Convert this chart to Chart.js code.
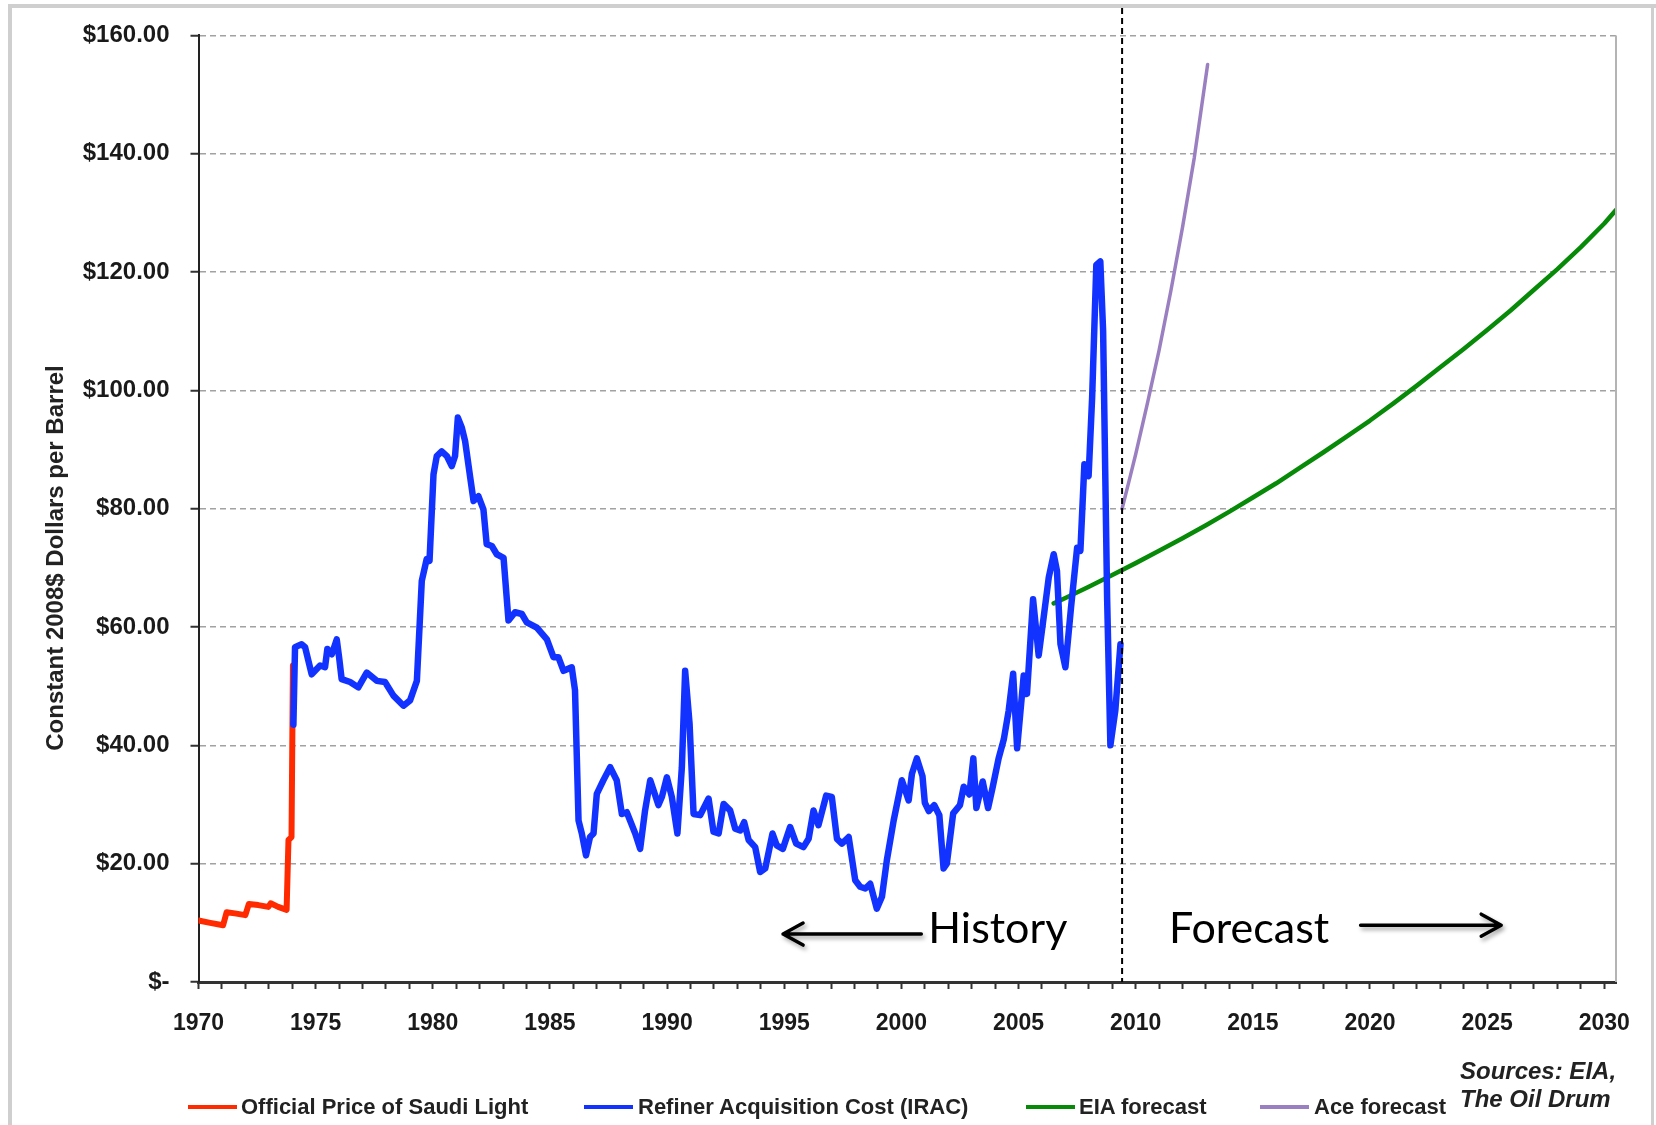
<!DOCTYPE html>
<html>
<head>
<meta charset="utf-8">
<script src="https://cdn.jsdelivr.net/npm/chart.js@4.4.1/dist/chart.umd.min.js"></script>
<style>
  html, body { margin: 0; padding: 0; background: #fff; }
  #wrap { position: relative; width: 1656px; height: 1125px; overflow: hidden; background: #fff; }
  #wrap canvas { position: absolute; left: 0; top: 0; }
  .frame { position: absolute; background: #cfcfcf; }
  .ytitle { position: absolute; left: -195px; top: 544px; width: 500px; height: 28px; line-height: 28px;
            text-align: center; transform: rotate(-90deg); transform-origin: 50% 50%;
            font: bold 24px "Liberation Sans", Arial, sans-serif; color: #222; white-space: nowrap; }
  .lg-line { position: absolute; height: 4px; top: 1105px; }
  .lg-text { position: absolute; top: 1094px; line-height: 26px; font: bold 22px "Liberation Sans", Arial, sans-serif; color: #222; white-space: nowrap; }
  .sources { position: absolute; left: 1460px; top: 1057px; line-height: 29px; font: italic bold 24px "Liberation Sans", Arial, sans-serif; color: #222; white-space: nowrap; }
</style>
</head>
<body>
<div id="wrap">
  <canvas id="c"></canvas>
  <div class="frame" style="left:8px; top:4px; width:1648px; height:4px;"></div>
  <div class="frame" style="left:8px; top:4px; width:4px; height:1121px;"></div>
  <div class="frame" style="left:1651px; top:4px; width:3px; height:1121px;"></div>
  <div class="ytitle">Constant 2008$ Dollars per Barrel</div>
  <div id="legend"></div>
  <div class="sources">Sources: EIA,<br>The Oil Drum</div>
</div>
<script>
// ---------- DATA ----------
const saudiYears  = [1970.0, 1970.5, 1971.05, 1971.2, 1971.55, 1972.0, 1972.15, 1972.55, 1972.98, 1973.08, 1973.4, 1973.76, 1973.84, 1973.97, 1974.03];
const saudiValues = [10.4, 10.0, 9.6, 11.8, 11.6, 11.3, 13.2, 13.0, 12.7, 13.3, 12.7, 12.2, 24.0, 24.5, 53.5];

const iracYears = [
  1974.05, 1974.12, 1974.40, 1974.55, 1974.83, 1975.19, 1975.40, 1975.50, 1975.69, 1975.90,
  1976.00, 1976.11, 1976.47, 1976.82, 1977.18, 1977.61, 1977.96, 1978.32, 1978.75, 1979.03,
  1979.32, 1979.53, 1979.74, 1979.86, 1980.03, 1980.17, 1980.38, 1980.60, 1980.81, 1980.95,
  1981.07, 1981.24, 1981.38, 1981.60, 1981.74, 1981.95, 1982.16, 1982.30, 1982.52, 1982.73,
  1983.02, 1983.23, 1983.51, 1983.80, 1984.01, 1984.44, 1984.87, 1985.15, 1985.36, 1985.58,
  1985.93, 1986.07, 1986.22, 1986.36, 1986.54, 1986.71, 1986.86, 1987.00, 1987.28, 1987.57,
  1987.85, 1988.07, 1988.28, 1988.42, 1988.64, 1988.85, 1989.06, 1989.28, 1989.63, 1989.78,
  1989.99, 1990.20, 1990.44, 1990.63, 1990.77, 1990.96, 1991.13, 1991.41, 1991.77, 1991.98,
  1992.20, 1992.41, 1992.69, 1992.91, 1993.12, 1993.29, 1993.48, 1993.76, 1993.97, 1994.19,
  1994.50, 1994.68, 1994.94, 1995.25, 1995.51, 1995.82, 1996.04, 1996.25, 1996.46, 1996.79,
  1997.03, 1997.25, 1997.46, 1997.75, 1998.03, 1998.24, 1998.46, 1998.67, 1998.95, 1999.17,
  1999.38, 1999.67, 2000.02, 2000.31, 2000.45, 2000.66, 2000.90, 2001.00, 2001.17, 2001.40,
  2001.62, 2001.80, 2001.94, 2002.21, 2002.50, 2002.66, 2002.90, 2003.07, 2003.20, 2003.47,
  2003.70, 2003.90, 2004.15, 2004.37, 2004.58, 2004.77, 2004.94, 2005.22, 2005.36, 2005.62,
  2005.86, 2006.07, 2006.29, 2006.50, 2006.64, 2006.79, 2007.00, 2007.24, 2007.50, 2007.64,
  2007.81, 2007.99, 2008.14, 2008.32, 2008.49, 2008.61, 2008.78, 2008.92, 2009.13, 2009.35
];
const iracValues = [
  43.5, 56.6, 57.1, 56.6, 52.0, 53.5, 53.2, 56.3, 55.4, 57.9,
  54.9, 51.2, 50.7, 49.8, 52.3, 50.9, 50.7, 48.4, 46.7, 47.6,
  50.9, 67.8, 71.5, 71.2, 85.8, 88.9, 89.7, 88.9, 87.2, 88.9,
  95.4, 93.7, 91.4, 85.2, 81.3, 82.1, 79.9, 74.0, 73.7, 72.3,
  71.7, 61.1, 62.5, 62.2, 60.8, 59.9, 57.9, 54.9, 54.9, 52.6,
  53.2, 49.3, 27.3, 25.1, 21.4, 24.5, 25.1, 31.8, 34.1, 36.3,
  34.1, 28.4, 28.7, 27.3, 25.1, 22.5, 29.0, 34.1, 29.9, 31.3,
  34.6, 31.3, 25.1, 36.3, 52.6, 43.6, 28.4, 28.2, 31.0, 25.4,
  25.1, 30.1, 29.0, 25.9, 25.6, 27.0, 24.0, 22.8, 18.6, 19.2,
  25.1, 23.1, 22.5, 26.2, 23.4, 22.8, 24.2, 29.0, 26.5, 31.5,
  31.3, 24.2, 23.4, 24.5, 17.2, 16.1, 15.8, 16.6, 12.4, 14.4,
  20.6, 27.3, 34.1, 30.7, 35.2, 37.8, 34.8, 30.3, 28.9, 29.9,
  28.2, 19.2, 20.0, 28.5, 29.9, 33.0, 31.7, 37.8, 29.4, 33.9,
  29.4, 33.0, 37.8, 41.0, 45.9, 52.1, 39.5, 51.8, 48.7, 64.7,
  55.2, 61.6, 68.4, 72.3, 69.5, 57.1, 53.2, 63.3, 73.4, 72.9,
  87.5, 85.5, 98.7, 121.2, 121.8, 110.0, 65.0, 40.0, 45.9, 57.1
];

const eiaYears  = [2006.5, 2007, 2008, 2009, 2010, 2011, 2012, 2013, 2014, 2015, 2016, 2017, 2018, 2019, 2020, 2021, 2022, 2023, 2024, 2025, 2026, 2027, 2028, 2029, 2030, 2030.5];
const eiaValues = [64.0, 64.9, 66.8, 68.8, 70.8, 72.9, 75.0, 77.2, 79.5, 81.9, 84.3, 86.9, 89.5, 92.2, 94.9, 97.8, 100.8, 103.9, 107.0, 110.2, 113.5, 117.0, 120.5, 124.2, 128.2, 130.5];

const aceYears  = [2009.42, 2009.75, 2010.0, 2010.5, 2011.0, 2011.5, 2012.0, 2012.5, 2013.07];
const aceValues = [80.0, 85.2, 89.2, 97.8, 106.8, 116.8, 127.6, 139.3, 155.1];

const seriesNames = ["Official Price of Saudi Light", "Refiner Acquisition Cost (IRAC)", "EIA forecast", "Ace forecast"];
const seriesColors = ["#ff2a00", "#1233ff", "#078a07", "#9a80c0"];

const yTickValues = [0, 20, 40, 60, 80, 100, 120, 140, 160];
const yTickLabels = ["$-", "$20.00", "$40.00", "$60.00", "$80.00", "$100.00", "$120.00", "$140.00", "$160.00"];
const xLabelYears = [1970, 1975, 1980, 1985, 1990, 1995, 2000, 2005, 2010, 2015, 2020, 2025, 2030];

const historyForecastSplit = 2009.42;

// ---------- BUILD ----------
const pts = (xs, ys) => xs.map((x, i) => ({ x: x, y: ys[i] }));

const legendEl = document.getElementById('legend');
const legendPos = [[188, 241], [584, 638], [1026, 1079], [1260, 1314]];
seriesNames.forEach((n, i) => {
  const l = document.createElement('div');
  l.className = 'lg-line';
  l.style.left = legendPos[i][0] + 'px';
  l.style.width = '49px';
  l.style.background = seriesColors[i];
  legendEl.appendChild(l);
  const t = document.createElement('div');
  t.className = 'lg-text';
  t.style.left = legendPos[i][1] + 'px';
  t.textContent = n;
  legendEl.appendChild(t);
});

function arrow(ctx, x1, x2, y) {
  const dir = x2 < x1 ? 1 : -1;
  ctx.save();
  ctx.strokeStyle = '#000';
  ctx.lineWidth = 3.5;
  ctx.lineCap = 'round';
  ctx.lineJoin = 'round';
  ctx.shadowColor = 'rgba(0,0,0,0.35)';
  ctx.shadowBlur = 4;
  ctx.shadowOffsetX = 2;
  ctx.shadowOffsetY = 3;
  ctx.beginPath();
  ctx.moveTo(x1, y);
  ctx.lineTo(x2, y);
  ctx.moveTo(x2 + dir * 20, y - 11);
  ctx.lineTo(x2, y);
  ctx.lineTo(x2 + dir * 20, y + 11);
  ctx.stroke();
  ctx.restore();
}

const overlay = {
  id: 'overlay',
  afterDatasetsDraw(chart) {
    const { ctx, chartArea: a, scales: { x, y } } = chart;
    ctx.save();
    ctx.strokeStyle = '#b4b4b4';
    ctx.lineWidth = 2;
    ctx.beginPath();
    ctx.moveTo(a.right, a.top);
    ctx.lineTo(a.right, a.bottom);
    ctx.stroke();
    const sx = x.getPixelForValue(historyForecastSplit);
    ctx.strokeStyle = '#000';
    ctx.lineWidth = 2;
    ctx.setLineDash([6, 4]);
    ctx.beginPath();
    ctx.moveTo(sx, 8);
    ctx.lineTo(sx, a.bottom);
    ctx.stroke();
    ctx.setLineDash([]);
    ctx.fillStyle = '#000';
    ctx.font = '43px Lato, "Open Sans", sans-serif';
    ctx.textBaseline = 'alphabetic';
    ctx.textAlign = 'left';
    ctx.fillText('History', x.getPixelForValue(2001.15), y.getPixelForValue(6.6));
    ctx.fillText('Forecast', x.getPixelForValue(2011.42), y.getPixelForValue(6.6));
    ctx.restore();
    arrow(ctx, x.getPixelForValue(2000.85), x.getPixelForValue(1994.95), y.getPixelForValue(8.1));
    arrow(ctx, x.getPixelForValue(2019.6), x.getPixelForValue(2025.6), y.getPixelForValue(9.6));
  }
};

const tickFontY = { family: '"Liberation Sans", Arial, sans-serif', size: 24, weight: 'bold' };
const tickFontX = { family: '"Liberation Sans", Arial, sans-serif', size: 23, weight: 'bold' };

new Chart(document.getElementById('c'), {
  type: 'line',
  data: {
    datasets: [
      { label: seriesNames[1], data: pts(iracYears, iracValues), borderColor: seriesColors[1], borderWidth: 6.5, order: 0 },
      { label: seriesNames[0], data: pts(saudiYears, saudiValues), borderColor: seriesColors[0], borderWidth: 6, order: 1 },
      { label: seriesNames[2], data: pts(eiaYears, eiaValues), borderColor: seriesColors[2], borderWidth: 4.5, order: 2 },
      { label: seriesNames[3], data: pts(aceYears, aceValues), borderColor: seriesColors[3], borderWidth: 3.5, order: 3 }
    ]
  },
  options: {
    responsive: true,
    maintainAspectRatio: false,
    animation: false,
    parsing: false,
    layout: { padding: { left: 0, right: 40, top: 33.5, bottom: 83 } },
    plugins: { legend: { display: false }, tooltip: { enabled: false } },
    elements: {
      point: { radius: 0, hoverRadius: 0 },
      line: { tension: 0, fill: false, borderJoinStyle: 'round', borderCapStyle: 'round' }
    },
    scales: {
      x: {
        type: 'linear', min: 1970, max: 2030.5,
        afterFit: s => { s.height = 60; },
        ticks: {
          stepSize: 1, maxTicksLimit: 100, autoSkip: false, includeBounds: false, maxRotation: 0,
          padding: 21, color: '#1a1a1a', font: tickFontX,
          callback: v => (xLabelYears.includes(Math.round(v)) && Math.abs(v - Math.round(v)) < 1e-6 ? String(Math.round(v)) : '')
        },
        grid: { drawOnChartArea: false, drawTicks: true, tickLength: 7, tickColor: '#333', tickWidth: 2 },
        border: { display: true, color: '#333', width: 3 }
      },
      y: {
        type: 'linear', min: 0, max: 160,
        afterFit: s => { s.width = 198.5; },
        afterBuildTicks: s => { s.ticks = yTickValues.map(v => ({ value: v })); },
        ticks: {
          padding: 21, color: '#1a1a1a', font: tickFontY,
          callback: v => yTickLabels[yTickValues.indexOf(v)]
        },
        grid: {
          color: c => (c.tick && c.tick.value === 0 ? 'rgba(0,0,0,0)' : '#a2a2a2'),
          lineWidth: 1.5, drawTicks: true, tickLength: 8, tickColor: '#333', tickWidth: 2, tickBorderDash: [1, 0]
        },
        border: { display: true, color: '#222', width: 2, dash: [6, 4] }
      }
    }
  },
  plugins: [overlay]
});
</script>
</body>
</html>
